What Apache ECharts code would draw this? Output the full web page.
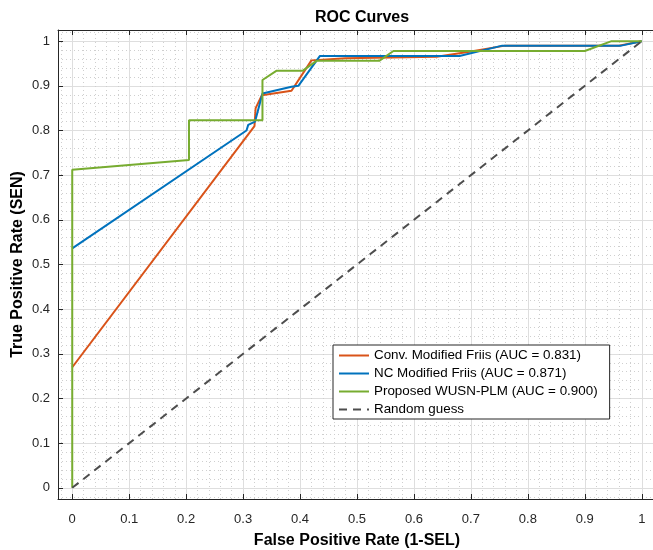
<!DOCTYPE html>
<html>
<head>
<meta charset="utf-8">
<script src="https://cdn.jsdelivr.net/npm/echarts@6/dist/echarts.min.js"></script>
<style>html,body{margin:0;padding:0;background:#fff}#c{width:653px;height:550px}</style>
</head>
<body>
<div id="c"></div>
<script>
const convX = [0, 0.32, 0.322, 0.333, 0.385, 0.42, 0.48, 0.64, 0.70, 0.76, 0.96, 1];
const convY = [0.27, 0.81, 0.85, 0.879, 0.889, 0.957, 0.962, 0.965, 0.977, 0.99, 0.99, 1];
const ncX = [0, 0.306, 0.309, 0.321, 0.334, 0.385, 0.397, 0.435, 0.68, 0.755, 0.964, 1];
const ncY = [0.536, 0.80, 0.8125, 0.82, 0.883, 0.898, 0.9, 0.967, 0.967, 0.99, 0.99, 1];
const propX = [0, 0, 0.205, 0.205, 0.334, 0.334, 0.359, 0.405, 0.429, 0.539, 0.564, 0.9, 0.947, 1];
const propY = [0, 0.712, 0.734, 0.823, 0.823, 0.913, 0.934, 0.934, 0.956, 0.956, 0.978, 0.978, 1.0, 1.0];
const randX = [0, 1];
const randY = [0, 1];
const seriesNames = ['Conv. Modified Friis (AUC = 0.831)', 'NC Modified Friis (AUC = 0.871)', 'Proposed WUSN-PLM (AUC = 0.900)', 'Random guess'];
const titleText = 'ROC Curves';
const xLabel = 'False Positive Rate (1-SEL)';
const yLabel = 'True Positive Rate (SEN)';

const zip = (xs, ys) => xs.map((x, i) => [x, ys[i]]);
const FONT = 'Liberation Sans, Arial, Helvetica, sans-serif';
const AX = '#262626';

function valAxis(extra) {
  return Object.assign({
    type: 'value', min: -0.025, max: 1.025, splitNumber: 10,
    axisLine: {show: true, onZero: false, lineStyle: {color: AX, width: 1}},
    axisTick: {show: true, inside: true, length: 5, lineStyle: {color: AX}},
    splitLine: {show: true, lineStyle: {color: '#dedede', width: 1}},
    minorTick: {show: false, splitNumber: 5},
    minorSplitLine: {show: true, lineStyle: {color: '#cfcfcf', width: 1, type: [1, 3]}},
    axisLabel: {color: AX, fontSize: 13, fontFamily: FONT, showMinLabel: false, showMaxLabel: false,
      formatter: v => (Math.abs(v - Math.round(v*10)/10) < 1e-6 && v >= -1e-9 && v <= 1+1e-9) ? String(+v.toFixed(1)) : ''}
  }, extra);
}

const chart = echarts.init(document.getElementById('c'), null, {renderer: 'canvas'});
chart.setOption({
  animation: false,
  backgroundColor: '#fff',
  title: {text: titleText, left: 357, textAlign: 'center', top: 5,
    textStyle: {fontSize: 16, fontWeight: 'bold', color: '#000', fontFamily: FONT}},
  grid: {left: 58, top: 30, right: -3, bottom: 51, containLabel: false, outerBoundsMode: 'none'},
  xAxis: [
    valAxis({position: 'bottom', name: xLabel, nameLocation: 'middle', nameGap: 34,
      nameTextStyle: {fontSize: 16, fontWeight: 'bold', color: '#000', fontFamily: FONT},
      axisLabel: Object.assign(valAxis({}).axisLabel, {margin: 14})}),
    valAxis({position: 'top', axisLabel: {show: false}, splitLine: {show: false}, minorSplitLine: {show: false}})
  ],
  yAxis: [
    valAxis({position: 'left', name: yLabel, nameLocation: 'middle', nameGap: 32, nameMoveOverlap: false,
      nameTextStyle: {fontSize: 16, fontWeight: 'bold', color: '#000', fontFamily: FONT},
      axisLabel: Object.assign(valAxis({}).axisLabel, {margin: 8})}),
  ],
  legend: {
    orient: 'vertical', left: 333, top: 345,
    backgroundColor: '#fff', borderColor: '#262626', borderWidth: 1,
    padding: [4, 12, 3, 5], itemWidth: 30, itemHeight: 14, itemGap: 5,
    itemStyle: {color: 'rgba(0,0,0,0)', borderColor: 'rgba(0,0,0,0)', borderWidth: 0},
    textStyle: {fontSize: 13.4, color: '#000', fontFamily: FONT},
    data: seriesNames
  },
  series: [
    {name: seriesNames[0], type: 'line', data: zip(convX, convY), symbol: 'none', lineStyle: {color: '#D95319', width: 2}, itemStyle: {color: '#D95319'}, z: 3},
    {name: seriesNames[1], type: 'line', data: zip(ncX, ncY), symbol: 'none', lineStyle: {color: '#0072BD', width: 2}, itemStyle: {color: '#0072BD'}, z: 4},
    {name: seriesNames[2], type: 'line', data: zip(propX, propY), symbol: 'none', lineStyle: {color: '#77AC30', width: 2}, itemStyle: {color: '#77AC30'}, z: 5},
    {name: seriesNames[3], type: 'line', data: zip(randX, randY), symbol: 'none', lineStyle: {color: '#4d4d4d', width: 2, type: [8, 6]}, itemStyle: {color: '#4d4d4d'}, z: 6}
  ]
});
</script>
</body>
</html>
